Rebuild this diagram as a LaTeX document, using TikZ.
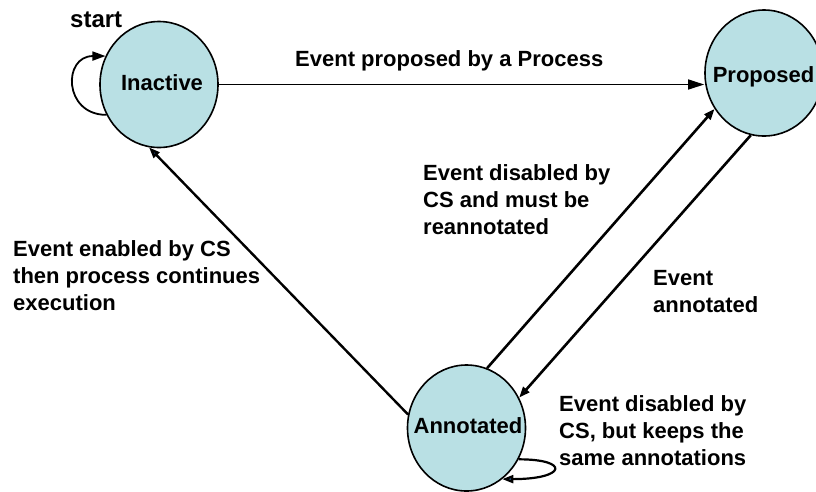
\documentclass[tikz,border=0pt]{standalone}
\usepackage{fontspec}
\setmainfont{Liberation Sans}
\usetikzlibrary{arrows.meta,shapes.geometric}
\definecolor{statefill}{RGB}{185,224,228}
\definecolor{headblue}{RGB}{31,73,125}
\begin{document}
\begin{tikzpicture}[x=1pt,y=-1pt,
  font=\fontsize{22}{27}\selectfont\bfseries,
  state/.style={ellipse, draw=black, line width=1.6pt, fill=statefill,
    minimum width=118pt, minimum height=126pt, inner sep=0pt},
  statename/.style={anchor=base, inner sep=0pt},
  lbl/.style={align=left, anchor=north west, inner sep=0pt},
  bigtip/.style={-{Triangle[length=16pt,width=10pt]}},
  bluetip/.style={-{Triangle[length=11pt,width=8pt,fill=headblue]}},
  looptip/.style={-{Triangle[length=13pt,width=9pt]}}]
  \useasboundingbox (0,0) rectangle (816,491);

  % states
  \node[state] (inact) at (159,84.5) {};
  \node[state] (prop)  at (764,73)   {};
  \node[state] (ann)   at (466.5,428) {};
  \node[statename] (tinact) at (162,90)   {Inactive};
  \node[statename] (tprop)  at (763.5,82) {Proposed};
  \node[statename] (tann)   at (468,433)  {Annotated};

  % transitions
  \draw[bigtip, line width=1.3pt] (inact.east) -- (inact.east -| prop.west);
  \draw[bluetip, line width=2.4pt] (ann.167.7) -- (inact.261.3);
  \draw[bluetip, line width=2.6pt] (ann.71.4) -- (prop.216.3);
  \draw[bluetip, line width=2.6pt] (prop.258.9) -- (ann.30.3);
  \draw[looptip, line width=1.8pt]
    (inact.210.6) .. controls +(-43,0) and +(-43,0) .. (inact.152.6);
  \draw[bluetip, line width=2.2pt]
    (ann.329) .. controls +(52,0) and +(64,0) .. (ann.305.6);

  % labels
  \node[anchor=base west, inner sep=0pt, font=\fontsize{24}{28}\selectfont\bfseries]
    (lstart) at (70,27) {start};
  \node[anchor=base west, inner sep=0pt] (lprop) at (295,66) {Event proposed by a Process};
  \node[lbl] (lmust) at (423,164) {Event disabled by\\CS and must be\\reannotated};
  \node[lbl] (lenab) at (13,240) {Event enabled by CS\\then process continues\\execution};
  \node[lbl] (lannot) at (653,270) {Event\\annotated};
  \node[lbl] (lkeep) at (559,395) {Event disabled by\\CS, but keeps the\\same annotations};
\end{tikzpicture}
\end{document}
